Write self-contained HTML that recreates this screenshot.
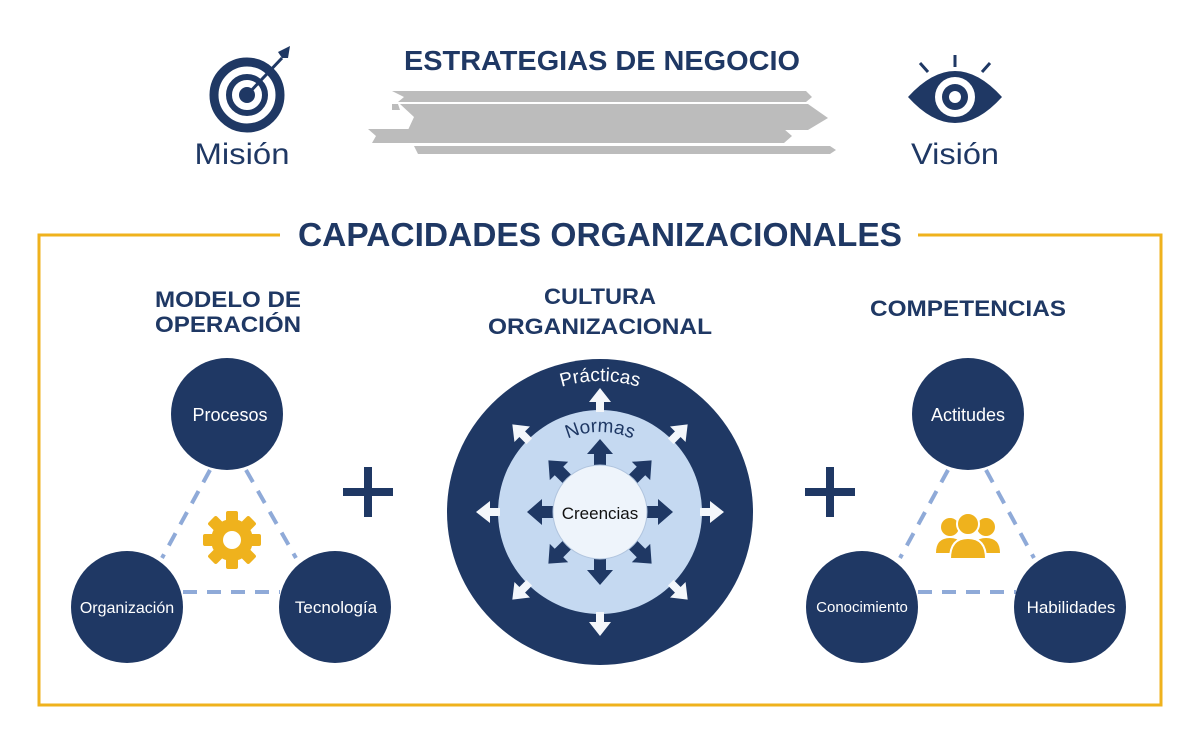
<!DOCTYPE html>
<html><head><meta charset="utf-8"><style>
html,body{margin:0;padding:0;background:#fff;}
svg{display:block;}
text{font-family:"Liberation Sans",sans-serif;}
</style></head><body>
<svg width="1200" height="749" viewBox="0 0 1200 749" xmlns="http://www.w3.org/2000/svg">
<defs>
<g id="wa"><path d="M-4,-100 L-4,-110 L-11,-110 L0,-124 L11,-110 L4,-110 L4,-100 Z" fill="#f4f7fb"/></g>
<g id="da"><path d="M-6,-45 L-6,-58 L-13,-58 L0,-73 L13,-58 L6,-58 L6,-45 Z" fill="#1f3864"/></g>
<path id="arcP" d="M 469,512 A 131,131 0 0 1 731,512"/>
<path id="arcN" d="M 520,512 A 80,80 0 0 1 680,512"/>
</defs>
<text x="602" y="70" text-anchor="middle" font-size="28" font-weight="bold" fill="#1f3864" textLength="396" lengthAdjust="spacingAndGlyphs">ESTRATEGIAS DE NEGOCIO</text>
<circle cx="247" cy="95" r="33" fill="none" stroke="#1f3864" stroke-width="9"/>
<circle cx="247" cy="95" r="18" fill="none" stroke="#1f3864" stroke-width="6"/>
<circle cx="247" cy="95" r="8" fill="#1f3864"/>
<line x1="247" y1="95" x2="282" y2="58" stroke="#1f3864" stroke-width="3"/>
<path d="M278,52 L290,46 L288,58 L282,58 Z" fill="#1f3864"/>
<text x="242" y="164" text-anchor="middle" font-size="30" fill="#1f3864" textLength="95" lengthAdjust="spacingAndGlyphs">Misión</text>
<path d="M908,97 Q955,45 1002,97 Q955,149 908,97 Z" fill="#1f3864"/>
<circle cx="955" cy="97" r="20" fill="#fff"/>
<circle cx="955" cy="97" r="13" fill="#1f3864"/>
<circle cx="955" cy="97" r="6" fill="#fff"/>
<line x1="955" y1="55" x2="955" y2="67" stroke="#1f3864" stroke-width="3"/>
<line x1="920" y1="63" x2="928" y2="72" stroke="#1f3864" stroke-width="3"/>
<line x1="990" y1="63" x2="982" y2="72" stroke="#1f3864" stroke-width="3"/>
<text x="955" y="164" text-anchor="middle" font-size="30" fill="#1f3864" textLength="88" lengthAdjust="spacingAndGlyphs">Visión</text>
<g fill="#bcbcbc">
<path d="M392,91 L806,91 L812,97 L806,102 L398,102 L404,97 Z"/>
<path d="M400,104 L808,104 L828,118 L808,130 L408,130 L414,117 Z"/>
<path d="M368,129 L784,129 L792,136 L784,143 L372,143 L376,136 Z"/>
<path d="M414,146 L830,146 L836,150 L830,154 L418,154 Z"/>
<path d="M392,104 L398,104 L400,110 L392,110 Z"/>
</g>
<path d="M280,235 L39,235 L39,705 L1161,705 L1161,235 L918,235" fill="none" stroke="#efb21d" stroke-width="3"/>
<text x="600" y="246" text-anchor="middle" font-size="33" font-weight="bold" fill="#1f3864" textLength="604" lengthAdjust="spacingAndGlyphs">CAPACIDADES ORGANIZACIONALES</text>
<g font-size="22" font-weight="bold" fill="#1f3864" text-anchor="middle">
<text x="228" y="307" textLength="146" lengthAdjust="spacingAndGlyphs">MODELO DE</text><text x="228" y="332" textLength="146" lengthAdjust="spacingAndGlyphs">OPERACIÓN</text>
<text x="600" y="304" textLength="112" lengthAdjust="spacingAndGlyphs">CULTURA</text><text x="600" y="334" textLength="224" lengthAdjust="spacingAndGlyphs">ORGANIZACIONAL</text>
<text x="968" y="316" textLength="196" lengthAdjust="spacingAndGlyphs">COMPETENCIAS</text>
</g>
<g stroke="#8faad8" stroke-width="4" stroke-dasharray="14,10" fill="none">
<line x1="210" y1="470" x2="162" y2="558"/>
<line x1="246" y1="470" x2="296" y2="558"/>
<line x1="183" y1="592" x2="280" y2="592"/>
<line x1="948" y1="470" x2="900" y2="558"/>
<line x1="986" y1="470" x2="1034" y2="558"/>
<line x1="918" y1="592" x2="1016" y2="592"/>
</g>
<g fill="#1f3864">
<circle cx="227" cy="414" r="56"/>
<circle cx="127" cy="607" r="56"/>
<circle cx="335" cy="607" r="56"/>
<circle cx="968" cy="414" r="56"/>
<circle cx="862" cy="607" r="56"/>
<circle cx="1070" cy="607" r="56"/>
<rect x="343" y="488" width="50" height="8"/><rect x="364" y="467" width="8" height="50"/>
<rect x="805" y="488" width="50" height="8"/><rect x="826" y="467" width="8" height="50"/>
</g>
<g fill="#fff" text-anchor="middle">
<text x="230" y="421" font-size="18">Procesos</text>
<text x="127" y="613" font-size="16">Organización</text>
<text x="336" y="613" font-size="17">Tecnología</text>
<text x="968" y="421" font-size="18">Actitudes</text>
<text x="862" y="612" font-size="15">Conocimiento</text>
<text x="1071" y="613" font-size="17">Habilidades</text>
</g>
<g transform="translate(232,540)" fill="#efb21d">
<rect x="-6" y="-29" width="12" height="58" rx="2"/>
<rect x="-6" y="-29" width="12" height="58" rx="2" transform="rotate(45)"/>
<rect x="-6" y="-29" width="12" height="58" rx="2" transform="rotate(90)"/>
<rect x="-6" y="-29" width="12" height="58" rx="2" transform="rotate(135)"/>
<circle r="21"/>
<circle r="9" fill="#fff"/>
</g>
<g fill="#efb21d">
<circle cx="950" cy="527" r="9"/><circle cx="986" cy="527" r="9"/>
<path d="M936,553 Q936,538 950,538 Q964,538 964,553 Z"/>
<path d="M972,553 Q972,538 986,538 Q1000,538 1000,553 Z"/>
<circle cx="968" cy="524" r="11" stroke="#fff" stroke-width="2"/>
<path d="M950,559 Q950,538 968,538 Q986,538 986,559 Z" stroke="#fff" stroke-width="2"/>
</g>
<circle cx="600" cy="512" r="153" fill="#1f3864"/>
<circle cx="600" cy="512" r="102" fill="#c5d9f1"/>
<g transform="translate(600,512)">
<use href="#wa"/><use href="#wa" transform="rotate(45)"/><use href="#wa" transform="rotate(90)"/><use href="#wa" transform="rotate(135)"/>
<use href="#wa" transform="rotate(180)"/><use href="#wa" transform="rotate(225)"/><use href="#wa" transform="rotate(270)"/><use href="#wa" transform="rotate(315)"/>
<use href="#da"/><use href="#da" transform="rotate(45)"/><use href="#da" transform="rotate(90)"/><use href="#da" transform="rotate(135)"/>
<use href="#da" transform="rotate(180)"/><use href="#da" transform="rotate(225)"/><use href="#da" transform="rotate(270)"/><use href="#da" transform="rotate(315)"/>
</g>
<circle cx="600" cy="512" r="47" fill="#eef4fb" stroke="#b0c4de" stroke-width="1"/>
<text x="600" y="519" text-anchor="middle" font-size="17" fill="#111">Creencias</text>
<text font-size="19" fill="#fff"><textPath href="#arcP" startOffset="50%" text-anchor="middle">Prácticas</textPath></text>
<text font-size="19" fill="#1f3864"><textPath href="#arcN" startOffset="50%" text-anchor="middle">Normas</textPath></text>
</svg>
</body></html>
